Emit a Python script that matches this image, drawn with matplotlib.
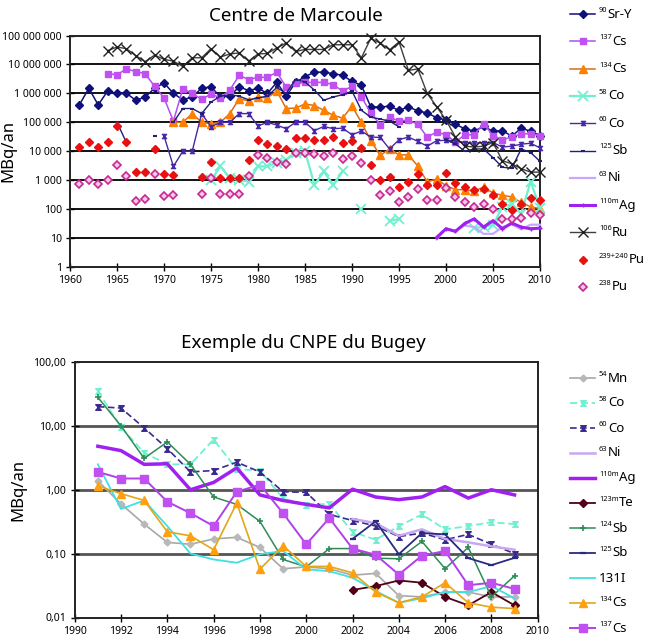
import numpy as np
import matplotlib
matplotlib.use('Agg')
import matplotlib.pyplot as plt
from matplotlib.lines import Line2D
from matplotlib.path import Path

plt.rcParams['font.family'] = ['Noto Sans', 'DejaVu Sans']
plt.rcParams['mathtext.default'] = 'regular'

# ---------------- Centre de Marcoule (MBq/an) ----------------
years_sr90 = list(range(1961, 2011))
sr90 = [4e5, 1.5e6, 4e5, 1.2e6, 1e6, 1e6, 5.8e5, 7.5e5, 1.5e6, 2.3e6,
        1e6, 6e5, 7.5e5, 1.5e6, 1.7e6, 7.5e5, 8e5, 1.7e6, 1.25e6, 1.5e6,
        1e6, 2.4e6, 8e5, 2.4e6, 3.8e6, 5.4e6, 5.4e6, 4.8e6, 4.2e6, 2.6e6,
        1.9e6, 3.4e5, 3.4e5, 3.6e5, 2.6e5, 3.4e5, 2.5e5, 2.1e5, 1.45e5, 1.2e5,
        8.5e4, 6e4, 5e4, 7.2e4, 4.9e4, 5.2e4, 3.3e4, 6.3e4, 4.9e4, 3.5e4]

years_cs137 = list(range(1964, 2011))
cs137 = [4.8e6, 4.4e6, 7e6, 5.7e6, 4.8e6, 1.75e6, 7e5,
         1.1e5, 1.45e6, 1e6, 6.2e5, 9.5e5, 7e5, 1.3e6, 4.2e6, 3e6, 3.6e6,
         3.6e6, 5.4e6, 1.65e6, 2.2e6, 2.4e6, 2.4e6, 2.4e6, 2e6, 1.2e6, 1.75e6,
         7.5e5, 2.1e5, 8.3e4, 1.5e5, 1.1e5, 1.2e5, 8.5e4, 3.1e4, 4.6e4, 3.7e4,
         2.1e4, 3.7e4, 3.7e4, 9e4, 3.5e4, 2.5e4, 3.1e4, 4e4, 4e4, 3.5e4]

years_cs134 = list(range(1971, 2011))
cs134 = [1e5, 1e5, 2e5, 1e5, 9e4, 1e5, 2e5, 6.5e5, 5.5e5, 7.5e5,
         7e5, 1.2e6, 3e5, 3.1e5, 4.3e5, 3.8e5, 2.6e5, 1.75e5, 1.4e5, 3.6e5,
         1e5, 2.3e4, 7.2e3, 1.2e4, 7.5e3, 7.5e3, 3.1e3, 870, 1.1e3, 650,
         470, 470, 420, 580, 360, 300, 265, 170, 120, 105]

years_co58 = list(range(1975, 1990)) + [1990, 1991, 1992, 1994, 1995, 1996] + list(range(2003, 2011))
co58 = [1000, 3000, 1200, 1000, 900, 3000, 3000, 4000, 5000, 9000, 1e4, 700, 2000, 700, 2000,
        None, 100, None, 40, 45, None,
        22, 25, 28, 120, 150, 70, 900, 110]

years_co60 = list(range(1970, 2011))
co60 = [3.4e4, 3000, 1e4, 1e4, 2e5, 7e4, 1e5, 1e5, 2e5, 2e5,
        7.5e4, 1e5, 8e4, 6e4, 1e5, 1e5, 5.2e4, 7.2e4, 6e4, 6.3e4,
        3.7e4, 5e4, 3.1e4, 3e4, 1.2e4, 2.5e4, 3.1e4, 2.2e4, 1.5e4, 2.3e4,
        2.4e4, 2.3e4, 2e4, 1.9e4, 2e4, 2e4, 1.4e4, 1.5e4, 1.75e4, 1.9e4, 1.3e4]

years_sb125 = [1965, 1966, 1967, 1969, 1970] + list(range(1971, 1996)) + [1996] + list(range(2000, 2011))
sb125 = [1e5, 2e4, None, 3.4e4, None,
         1e5, 3e5, 3e5, 2e5, 5e5, 8e5, 9e5, 8e5, 6e5, 7e5,
         8e5, 1.6e6, 1e6, 3e6, 2.5e6, 1.3e6, 5.8e5, 7.5e5, 9e5, 1.2e6,
         2.6e5, 1.5e5, 1.3e5, 1.1e5, 7e4, None,
         2.5e4, 1.8e4, 1e4, 1.2e4, 1.2e4, 6e3, 2.8e3, 2.6e3, 1.2e4, 9e3, 4.5e3]

years_ni63 = list(range(1999, 2011))
ni63 = [9, 21, 18, 27, 24, 14, 14, 24, 30, 20, 29, 29]

years_ag110 = list(range(1999, 2011))
ag110 = [10.5, 21, 17, 32, 46, 24, 40, 21, 33, 24, 21, 22]

years_ru106 = list(range(1964, 2011))
ru106 = [3e7, 4e7, 3.5e7, 2e7, 1.25e7, 2.1e7, 1.5e7,
         1.3e7, 8.5e6, 1.7e7, 1.7e7, 3.5e7, 1.8e7, 2.3e7, 2.5e7, 1.3e7, 2.3e7,
         2.4e7, 3.7e7, 5.5e7, 2.8e7, 3.3e7, 3.3e7, 3.3e7, 4.8e7, 4.8e7, 4.8e7,
         1.7e7, 8e7, 5.5e7, 3.2e7, 6e7, 6.2e6, 7e6, 1e6, 3.5e5, 1.2e5,
         3.1e4, 1.5e4, 1.4e4, 1.5e4, 2e4, 4.7e3, 3.7e3, 2.5e3, 1.9e3, 1.9e3]

years_pu = list(range(1961, 1972)) + list(range(1974, 2011))
pu239 = [1.4e4, 2.1e4, 1.4e4, 2.1e4, 7.2e4, 2.1e4, 1.9e3, 1.9e3, 1.2e4, 1.65e3, 1.55e3,
         1.26e3, 4.3e3, 1.2e3, 1.2e3, 1.2e3, 5e3, 2.4e4, 1.8e4, 1.5e4, 1.2e4,
         2.8e4, 2.8e4, 2.5e4, 2.5e4, 3e4, 1.9e4, 2.2e4, 1.3e4, 3.4e3, 1.05e3,
         1.3e3, 560, 850, 1.65e3, 690, 690, 1.8e3, 830, 560, 450,
         500, 320, 145, 90, 145, 245, 215]
pu238 = [760, 1.05e3, 760, 1.05e3, 3.4e3, 1.45e3, 185, 220, 1.65e3, 280, 300,
         340, 1.2e3, 340, 340, 340, 1.45e3, 7.5e3, 5.9e3, 4.3e3, 3.7e3,
         8.7e3, 8.7e3, 8e3, 7e3, 9e3, 5.4e3, 6.6e3, 4e3, 1.05e3, 300,
         440, 180, 260, 500, 210, 210, 540, 260, 180, 120,
         150, 105, 44, 44, 50, 75, 62]

top_yticks = [1, 10, 100, 1e3, 1e4, 1e5, 1e6, 1e7, 1e8]
top_yticklabels = ['1', '10', '100', '1 000', '10 000', '100 000', '1 000 000',
                   '10 000 000', '100 000 000']
top_xticks = list(range(1960, 2011, 5))

# ---------------- Exemple du CNPE du Bugey (MBq/an) ----------------
years_bugey = list(range(1991, 2010))
mn54 = [1.38, 0.6, 0.29, 0.15, 0.14, 0.17, 0.18, 0.125, 0.058, 0.062,
        0.058, 0.046, 0.049, 0.022, 0.021, 0.025, 0.025, 0.021, 0.021]
co58_b = [35, 9.5, 3.8, 2.5, 2.5, 6.1, 2.1, 2.0, 0.73, 0.58,
          0.6, 0.22, 0.165, 0.27, 0.41, 0.24, 0.27, 0.31, 0.29]
co60_b = [20, 19, 9.3, 4.4, 1.9, 2.0, 2.7, 1.9, 0.93, 0.91,
          0.41, 0.33, 0.27, 0.185, 0.21, 0.165, 0.2, 0.14, 0.1]
years_ni63_b = list(range(2002, 2010))
ni63_b = [0.35, 0.3, 0.19, 0.24, 0.17, 0.15, 0.13, 0.115]
ag110_b = [4.8, 4.1, 2.5, 2.55, 1.0, 1.3, 2.2, 0.83, 0.68, 0.59,
           0.52, 1.02, 0.77, 0.7, 0.77, 1.12, 0.74, 1.0, 0.83]
years_te123 = list(range(2002, 2010))
te123 = [0.027, 0.031, 0.038, 0.035, 0.021, 0.0155, 0.025, 0.0155]
sb124 = [28, 10, 3.1, 5.6, 2.5, 0.77, 0.59, 0.32, 0.081, 0.062,
         0.12, 0.12, 0.085, 0.083, 0.155, 0.058, 0.125, 0.021, 0.045]
years_sb125_b = list(range(2002, 2010))
sb125_b = [0.17, 0.32, 0.098, 0.21, 0.2, 0.085, 0.066, 0.086]
i131 = [2.5, 0.5, 0.68, 0.27, 0.1, 0.081, 0.072, 0.098, 0.11, 0.057,
        0.053, 0.042, 0.026, 0.017, 0.02, 0.025, 0.025, 0.031, 0.02]
cs134_b = [1.15, 0.87, 0.68, 0.22, 0.19, 0.115, 0.62, 0.057, 0.133, 0.063,
           0.063, 0.05, 0.025, 0.017, 0.021, 0.035, 0.017, 0.0145, 0.0138]
cs137_b = [1.9, 1.5, 1.5, 0.65, 0.43, 0.27, 0.93, 1.2, 0.43, 0.14,
           0.36, 0.12, 0.096, 0.047, 0.093, 0.11, 0.032, 0.035, 0.028]

bot_yticks = [0.01, 0.1, 1, 10, 100]
bot_yticklabels = ['0,01', '0,10', '1,00', '10,00', '100,00']
bot_xticks = list(range(1990, 2011, 2))

# ---------------- drawing ----------------
W, H = 646, 644
fig = plt.figure(figsize=(W / 100, H / 100), dpi=100)
renderer = fig.canvas.get_renderer()

hourglass = Path([(-1, 1), (1, 1), (-1, -1), (1, -1), (-1, 1)],
                 [Path.MOVETO, Path.LINETO, Path.LINETO, Path.LINETO, Path.CLOSEPOLY])


def arr(v):
    return np.array([np.nan if x is None else x for x in v], dtype=float)


top_series = [
    (('90', 'Sr-Y'), years_sr90, sr90, dict(color='#10107A', lw=1.1, marker='D', ms=4.2, mfc='#10107A', mec='#10107A')),
    (('137', 'Cs'), years_cs137, cs137, dict(color='#B050F0', lw=1.1, marker='s', ms=5, mfc='#C050F0', mec='#C050F0')),
    (('134', 'Cs'), years_cs134, cs134, dict(color='#D07020', lw=1.1, marker='^', ms=5.5, mfc='#FF8000', mec='#FF8000')),
    (('58', 'Co'), years_co58, co58, dict(color='#70F0D0', lw=1.6, marker='x', ms=7, mew=1.3, mfc='#70F0D0', mec='#70F0D0')),
    (('60', 'Co'), years_co60, co60, dict(color='#4828A8', lw=1.0, marker=hourglass, ms=3, mfc='#4828A8', mec='#4828A8')),
    (('125', 'Sb'), years_sb125, sb125, dict(color='#202078', lw=1.0, marker='_', ms=3, mew=1.5, mfc='#202078', mec='#202078')),
    (('63', 'Ni'), years_ni63, ni63, dict(color='#C8A8FF', lw=1.6)),
    (('110m', 'Ag'), years_ag110, ag110, dict(color='#A020F0', lw=2.2, marker='+', ms=3, mec='#A020F0')),
    (('106', 'Ru'), years_ru106, ru106, dict(color='#404040', lw=1.0, marker='x', ms=7.5, mew=1.0, mec='#202020')),
    (('239+240', 'Pu'), years_pu, pu239, dict(ls='none', marker='D', ms=4.5, mfc='#E81010', mec='#E81010')),
    (('238', 'Pu'), years_pu, pu238, dict(ls='none', marker='D', ms=4.5, mfc='#F4C8E8', mec='#C82890', mew=1.2)),
]

bot_series = [
    (('54', 'Mn'), years_bugey, mn54, dict(color='#A8A8A8', lw=1.2, marker='D', ms=3.5, mfc='#B8B8B8', mec='#B8B8B8')),
    (('58', 'Co'), years_bugey, co58_b, dict(color='#70F0D0', lw=1.3, ls=(0, (4, 2)), marker=hourglass, ms=4, mfc='#70F0D0', mec='#70F0D0')),
    (('60', 'Co'), years_bugey, co60_b, dict(color='#3A2A90', lw=1.2, ls=(0, (4, 2)), marker=hourglass, ms=4, mfc='#3A2A90', mec='#3A2A90')),
    (('63', 'Ni'), years_ni63_b, ni63_b, dict(color='#C8A8F0', lw=1.8)),
    (('110m', 'Ag'), years_bugey, ag110_b, dict(color='#A020F0', lw=2.5)),
    (('123m', 'Te'), years_te123, te123, dict(color='#500018', lw=1.3, marker='D', ms=4, mfc='#500018', mec='#500018')),
    (('124', 'Sb'), years_bugey, sb124, dict(color='#2E8B57', lw=1.1, marker='+', ms=4, mew=1.2, mec='#2E8B57')),
    (('125', 'Sb'), years_sb125_b, sb125_b, dict(color='#2A2A80', lw=1.3, marker='_', ms=4, mew=1.6, mec='#2A2A80')),
    (('', '131I'), years_bugey, i131, dict(color='#40E0E0', lw=1.3)),
    (('134', 'Cs'), years_bugey, cs134_b, dict(color='#E0A818', lw=1.2, marker='^', ms=6, mfc='#FFA010', mec='#FFA010')),
    (('137', 'Cs'), years_bugey, cs137_b, dict(color='#B040E8', lw=1.4, marker='s', ms=6, mfc='#C050F0', mec='#C050F0')),
]


def setup_axes(ax, xlim, ylim, xticks, yticks, yticklabels, gridcolor, gridlw):
    ax.set_yscale('log')
    ax.set_xlim(*xlim)
    ax.set_ylim(*ylim)
    ax.set_xticks(xticks)
    ax.set_xticklabels([str(t) for t in xticks], fontsize=7.5)
    ax.set_yticks(yticks)
    ax.set_yticklabels(yticklabels, fontsize=7.5)
    ax.yaxis.set_minor_locator(plt.NullLocator())
    ax.tick_params(axis='both', direction='inout', length=6, width=1, pad=3)
    for yv in yticks[1:-1]:
        ax.axhline(yv, color=gridcolor, lw=gridlw, zorder=1)
    for s in ax.spines.values():
        s.set_linewidth(1.4)
        s.set_color('#222222')
    ax.set_ylabel('MBq/an', fontsize=12)


ax1 = fig.add_axes([70 / W, 1 - 267 / H, 470 / W, (267 - 35.5) / H])
setup_axes(ax1, (1960, 2010), (1, 1e8), top_xticks, top_yticks, top_yticklabels, '#111111', 1.4)
ax1.yaxis.set_label_coords(-0.115, 0.5)
for label, yrs, vals, st in top_series:
    ax1.plot(yrs, arr(vals), zorder=3, clip_on=False, **st)

ax2 = fig.add_axes([74.7 / W, 1 - 617.5 / H, 463 / W, (617.5 - 362) / H])
setup_axes(ax2, (1990, 2010), (0.01, 100), bot_xticks, bot_yticks, bot_yticklabels, '#555555', 2.0)
ax2.yaxis.set_label_coords(-0.105, 0.5)
for label, yrs, vals, st in bot_series:
    ax2.plot(yrs, arr(vals), zorder=3, **st)

fig.text(296 / W, 1 - 16 / H, 'Centre de Marcoule', ha='center', va='center', fontsize=13.5)
fig.text(303 / W, 1 - 343 / H, 'Exemple du CNPE du Bugey', ha='center', va='center', fontsize=13.5)


def sup_label(xp, yp, sup, main):
    y = 1 - yp / H
    x = xp / W
    if sup:
        t = fig.text(x, y + 3.5 / H, sup, fontsize=5.3, ha='left', va='center')
        bb = t.get_window_extent(renderer)
        x = bb.x1 / W + 0.3 / W
    fig.text(x, y, main, fontsize=9.5, ha='left', va='center')


def legend(entries, ys):
    x0, x1, xt = 570, 595, 599
    for (label, yrs, vals, st), yp in zip(entries, ys):
        y = 1 - yp / H
        lstyle = {k: v for k, v in st.items() if k in ('color', 'lw', 'ls')}
        if st.get('ls') != 'none':
            fig.add_artist(Line2D([x0 / W, x1 / W], [y, y], transform=fig.transFigure, **lstyle))
        if 'marker' in st:
            mst = {k: v for k, v in st.items() if k in ('marker', 'ms', 'mfc', 'mec', 'mew')}
            if st.get('ls') == 'none':
                mst['ms'] = mst.get('ms', 4) * 0.85
            fig.add_artist(Line2D([(x0 + x1) / 2 / W], [y], transform=fig.transFigure, ls='none', **mst))
        sup_label(xt, yp, label[0], label[1])


legend(top_series, [14 + 27.3 * i for i in range(11)])
legend(bot_series, [378 + 25 * i for i in range(11)])

fig.savefig('out.png', dpi=100)
